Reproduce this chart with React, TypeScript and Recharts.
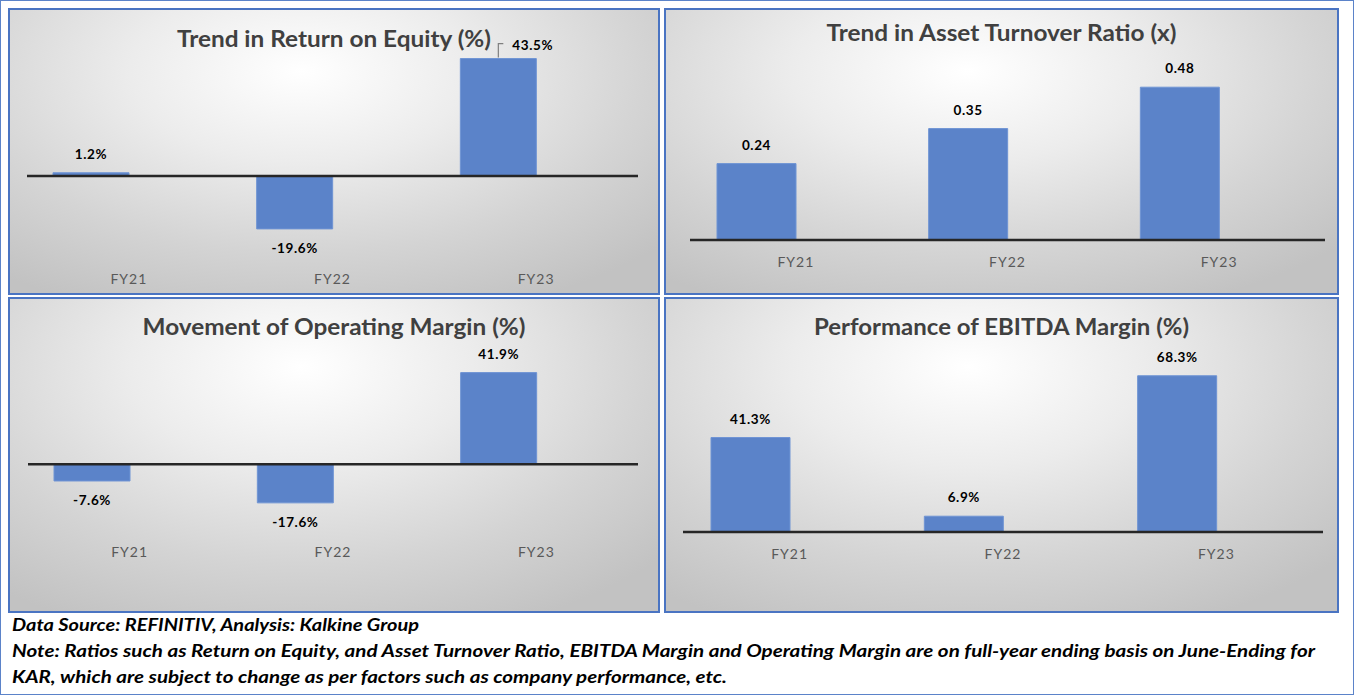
import React from "react";
import { Bar, BarChart, ReferenceLine, XAxis, YAxis } from "recharts";

const years = ["FY21", "FY22", "FY23"];
const returnOnEquity = [1.2, -19.6, 43.5];
const assetTurnover = [0.24, 0.35, 0.48];
const operatingMargin = [-7.6, -17.6, 41.9];
const ebitdaMargin = [41.3, 6.9, 68.3];

const sourceLine = "Data Source: REFINITIV, Analysis: Kalkine Group";
const noteLines = [
  "Note: Ratios such as Return on Equity, and Asset Turnover Ratio, EBITDA Margin and Operating Margin are on full-year ending basis on June-Ending for",
  "KAR, which are subject to change as per factors such as company performance, etc.",
];
const footerWidths = [407, 1303, 715];

const BAR_COLOR = "#5b83c9";
const FONT = "Lato, 'Open Sans', sans-serif";

type PanelProps = {
  title: string;
  titleWidth: number;
  values: number[];
  domain: [number, number];
  format: (v: number) => string;
  left: number;
  top: number;
  width: number;
  height: number;
  margin: { top: number; right: number; bottom: number; left: number };
  barSize: number;
  titleY: number;
  leaderIndex?: number;
};

function ValueLabel(props: any) {
  const { x, y, width, height, value, index, format, leaderIndex } = props;
  if (value == null) return null;
  const top = Math.min(y, y + height);
  const bottom = Math.max(y, y + height);
  const cx = x + width / 2;
  const text = format(value);
  const common = {
    dominantBaseline: "central" as const,
    fontFamily: FONT,
    fontWeight: 700,
    fontSize: 13.5,
    letterSpacing: 0.6,
    fill: "#000",
  };
  if (index === leaderIndex) {
    return (
      <g>
        <path
          d={`M${cx},${top - 1}V${top - 15}H${cx + 5}`}
          stroke="#7f7f7f"
          strokeWidth={1.2}
          fill="none"
        />
        <text x={cx + 14} y={top - 14} textAnchor="start" {...common}>
          {text}
        </text>
      </g>
    );
  }
  const ly = value >= 0 ? top - 19 : bottom + 19;
  return (
    <text x={cx} y={ly} textAnchor="middle" {...common}>
      {text}
    </text>
  );
}

function Panel(p: PanelProps) {
  const data = years.map((year, i) => ({ year, value: p.values[i], pad: null }));
  return (
    <div
      style={{
        position: "absolute",
        left: p.left,
        top: p.top,
        width: p.width,
        height: p.height,
        background:
          "radial-gradient(ellipse 75% 90% at 45% 22%, #ffffff 0%, #ececec 35%, #d4d4d4 70%, #c2c2c2 100%)",
        boxShadow: "inset 0 0 0 2px #4a74c2",
      }}
    >
      <svg
        width={p.width}
        height={60}
        style={{ position: "absolute", left: 0, top: 0 }}
      >
        <text
          x={p.width / 2}
          y={p.titleY}
          textAnchor="middle"
          dominantBaseline="central"
          textLength={p.titleWidth}
          lengthAdjust="spacingAndGlyphs"
          fontFamily={FONT}
          fontWeight={700}
          fontSize={22}
          fill="#404040"
        >
          {p.title}
        </text>
      </svg>
      <div style={{ position: "absolute", left: 0, top: 0 }}>
        <BarChart
          width={p.width}
          height={p.height}
          data={data}
          margin={p.margin}
          barGap={0}
        >
          <XAxis
            dataKey="year"
            axisLine={false}
            tickLine={false}
            height={30}
            tickMargin={11}
            tick={{ fill: "#595959", fontSize: 14, fontFamily: FONT, letterSpacing: 1 }}
          />
          <YAxis hide domain={p.domain} allowDataOverflow />
          <Bar
            dataKey="value"
            fill={BAR_COLOR}
            stroke="#6f94d4"
            strokeWidth={1}
            barSize={p.barSize}
            isAnimationActive={false}
            label={<ValueLabel format={p.format} leaderIndex={p.leaderIndex} />}
          />
          <Bar dataKey="pad" barSize={p.barSize} isAnimationActive={false} />
          <ReferenceLine y={0} stroke="#262626" strokeWidth={2.5} />
        </BarChart>
      </div>
    </div>
  );
}

const pct = (v: number) => `${v.toFixed(1)}%`;
const times = (v: number) => v.toFixed(2);

export default function App() {
  const footer = [sourceLine, ...noteLines];
  return (
    <div
      style={{
        position: "relative",
        width: 1354,
        height: 695,
        background: "#fff",
        boxShadow: "inset 0 0 0 1px #5b83c9",
        overflow: "hidden",
      }}
    >
      <style>{`body{margin:0}`}</style>
      <Panel
        title="Trend in Return on Equity (%)"
        titleWidth={314}
        values={returnOnEquity}
        domain={[-30, 50]}
        format={pct}
        left={8}
        top={8}
        width={652}
        height={287}
        margin={{ top: 33, right: 22, bottom: 8, left: 19 }}
        barSize={76}
        titleY={30}
        leaderIndex={2}
      />
      <Panel
        title="Trend in Asset Turnover Ratio (x)"
        titleWidth={350}
        values={assetTurnover}
        domain={[0, 0.6]}
        format={times}
        left={664}
        top={8}
        width={675}
        height={287}
        margin={{ top: 41, right: 14, bottom: 25, left: 26 }}
        barSize={79}
        titleY={24}
      />
      <Panel
        title="Movement of Operating Margin (%)"
        titleWidth={383}
        values={operatingMargin}
        domain={[-30, 60]}
        format={pct}
        left={8}
        top={297}
        width={652}
        height={316}
        margin={{ top: 36, right: 22, bottom: 53, left: 20 }}
        barSize={76}
        titleY={29}
      />
      <Panel
        title="Performance of EBITDA Margin (%)"
        titleWidth={375}
        values={ebitdaMargin}
        domain={[0, 80]}
        format={pct}
        left={664}
        top={297}
        width={675}
        height={316}
        margin={{ top: 52, right: 16, bottom: 51, left: 19 }}
        barSize={79}
        titleY={29}
      />
      <svg
        width={1354}
        height={82}
        style={{ position: "absolute", left: 0, top: 613 }}
      >
        {footer.map((line, i) => (
          <text
            key={line}
            x={12}
            y={12 + i * 26}
            dominantBaseline="central"
            textLength={footerWidths[i]}
            lengthAdjust="spacingAndGlyphs"
            fontFamily={FONT}
            fontWeight={700}
            fontStyle="italic"
            fontSize={16.5}
            fill="#000"
          >
            {line}
          </text>
        ))}
      </svg>
    </div>
  );
}
